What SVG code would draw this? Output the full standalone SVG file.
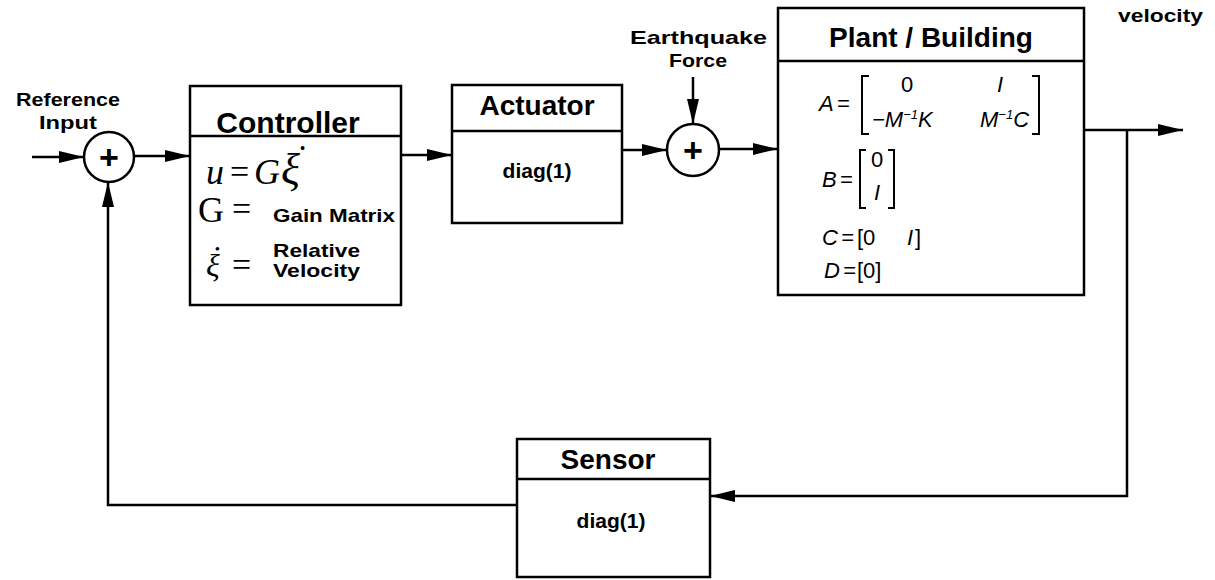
<svg xmlns="http://www.w3.org/2000/svg" width="1215" height="580" viewBox="0 0 1215 580">
<style>
.box{fill:#fff;stroke:#000;stroke-width:2.5}
.ln{fill:none;stroke:#000;stroke-width:2.5}
.br{fill:none;stroke:#000;stroke-width:2}
.arr{marker-end:url(#ah)}
.lbl{font-family:"Liberation Sans",Arial,sans-serif;font-weight:bold;font-size:19px;fill:#000}
.ttl{font-family:"Liberation Sans",Arial,sans-serif;font-weight:bold;font-size:28px;fill:#000;text-anchor:middle}
.dg{font-family:"Liberation Sans",Arial,sans-serif;font-weight:bold;font-size:21px;fill:#000;text-anchor:middle}
.mi{font-family:"Liberation Serif","DejaVu Serif",serif;font-style:italic;font-size:36px;fill:#000}
.mr{font-family:"Liberation Serif","DejaVu Serif",serif;font-size:36px;fill:#000}
.eq{font-family:"Liberation Serif","DejaVu Serif",serif;font-size:34px;fill:#000}
.dot{font-size:16px;font-style:normal}
.pm{font-family:"Liberation Sans",Arial,sans-serif;font-style:italic;font-size:22px;fill:#000}
.up{font-style:normal}
.plus{font-family:"Liberation Sans",Arial,sans-serif;font-weight:bold;font-size:34px;fill:#000;text-anchor:middle}
</style>
<defs>
<marker id="ah" markerUnits="userSpaceOnUse" markerWidth="27" markerHeight="12" refX="25" refY="6" orient="auto">
<path d="M0,0 L25,6 L0,12 Z" fill="#000"/>
</marker>
</defs>

<g id="connectors">
<path class="ln arr" d="M32,157 L84,157"/>
<path class="ln arr" d="M134,156 L190,156"/>
<path class="ln arr" d="M401,155 L452,155"/>
<path class="ln arr" d="M622,150 L667,150"/>
<path class="ln arr" d="M719,149 L778,149"/>
<path class="ln arr" d="M693,77 L693,124"/>
<path class="ln arr" d="M1084,130 L1183,130"/>
<path class="ln arr" d="M1127,130 L1127,496 L710,496"/>
<path class="ln arr" d="M517,505 L108,505 L108,182"/>
</g>

<g id="reference-input">
<text class="lbl" x="16" y="106" textLength="104" lengthAdjust="spacingAndGlyphs">Reference</text>
<text class="lbl" x="39" y="129" textLength="58" lengthAdjust="spacingAndGlyphs">Input</text>
</g>

<g id="sum1">
<circle class="box" cx="109" cy="157" r="25"/>
<text class="plus" x="109" y="169">+</text>
</g>

<g id="controller">
<rect class="box" x="190" y="86" width="211" height="219"/>
<line class="ln" x1="190" y1="136" x2="401" y2="136"/>
<text class="ttl" x="288" y="133" style="font-size:30px">Controller</text>
<text class="mi" x="206" y="184">u</text>
<text class="eq" x="230" y="183">=</text>
<text class="mi" x="254" y="184">G</text>
<text class="mi" x="281" y="184" style="font-size:44px">ξ<tspan class="dot" dx="0" dy="-30">•</tspan></text>
<text class="mr" x="198" y="222">G</text>
<text class="eq" x="232" y="220">=</text>
<text class="lbl" x="273" y="222" textLength="122" lengthAdjust="spacingAndGlyphs">Gain Matrix</text>
<text class="mi" x="206" y="276" style="font-size:32px">ξ<tspan class="dot" dx="-5" dy="-22" style="font-size:15px">•</tspan></text>
<text class="eq" x="232" y="276">=</text>
<text class="lbl" x="273" y="257" textLength="87" lengthAdjust="spacingAndGlyphs">Relative</text>
<text class="lbl" x="273" y="277" textLength="87" lengthAdjust="spacingAndGlyphs">Velocity</text>
</g>

<g id="actuator">
<rect class="box" x="452" y="85" width="170" height="138"/>
<line class="ln" x1="452" y1="131" x2="622" y2="131"/>
<text class="ttl" x="537" y="115">Actuator</text>
<text class="dg" x="537" y="178">diag(1)</text>
</g>

<g id="earthquake-force">
<text class="lbl" x="630" y="44" textLength="137" lengthAdjust="spacingAndGlyphs">Earthquake</text>
<text class="lbl" x="669" y="67" textLength="58" lengthAdjust="spacingAndGlyphs">Force</text>
</g>

<g id="sum2">
<circle class="box" cx="693" cy="150" r="26"/>
<text class="plus" x="693" y="162">+</text>
</g>

<g id="plant">
<rect class="box" x="778" y="8" width="306" height="287"/>
<line class="ln" x1="778" y1="61" x2="1084" y2="61"/>
<text class="ttl" x="931" y="47">Plant / Building</text>
<text class="pm" x="819" y="111">A<tspan dx="3">=</tspan></text>
<path class="br" d="M869,76 L862,76 L862,134 L869,134"/>
<path class="br" d="M1032,76 L1039,76 L1039,134 L1032,134"/>
<text class="pm up" x="907" y="92" text-anchor="middle">0</text>
<text class="pm" x="1000" y="92" text-anchor="middle">I</text>
<text class="pm" x="872" y="127">−M<tspan dy="-8" font-size="13">−1</tspan><tspan dy="8">K</tspan></text>
<text class="pm" x="980" y="127">M<tspan dy="-8" font-size="13">−1</tspan><tspan dy="8">C</tspan></text>
<text class="pm" x="822" y="187">B<tspan dx="3">=</tspan></text>
<path class="br" d="M866,150 L860,150 L860,208 L866,208"/>
<path class="br" d="M888,150 L894,150 L894,208 L888,208"/>
<text class="pm up" x="877" y="167" text-anchor="middle">0</text>
<text class="pm" x="877" y="200" text-anchor="middle">I</text>
<text class="pm" x="822" y="245">C<tspan dx="3">=</tspan><tspan class="up" x="857">[0</tspan><tspan x="907">I</tspan><tspan class="up" x="915">]</tspan></text>
<text class="pm" x="824" y="278">D<tspan dx="3">=</tspan><tspan class="up" x="857">[0]</tspan></text>
</g>

<g id="velocity-output">
<text class="lbl" x="1118" y="22" textLength="85" lengthAdjust="spacingAndGlyphs">velocity</text>
</g>

<g id="sensor">
<rect class="box" x="517" y="439" width="193" height="138"/>
<line class="ln" x1="517" y1="479" x2="710" y2="479"/>
<text class="ttl" x="608" y="469">Sensor</text>
<text class="dg" x="611" y="528">diag(1)</text>
</g>
</svg>
